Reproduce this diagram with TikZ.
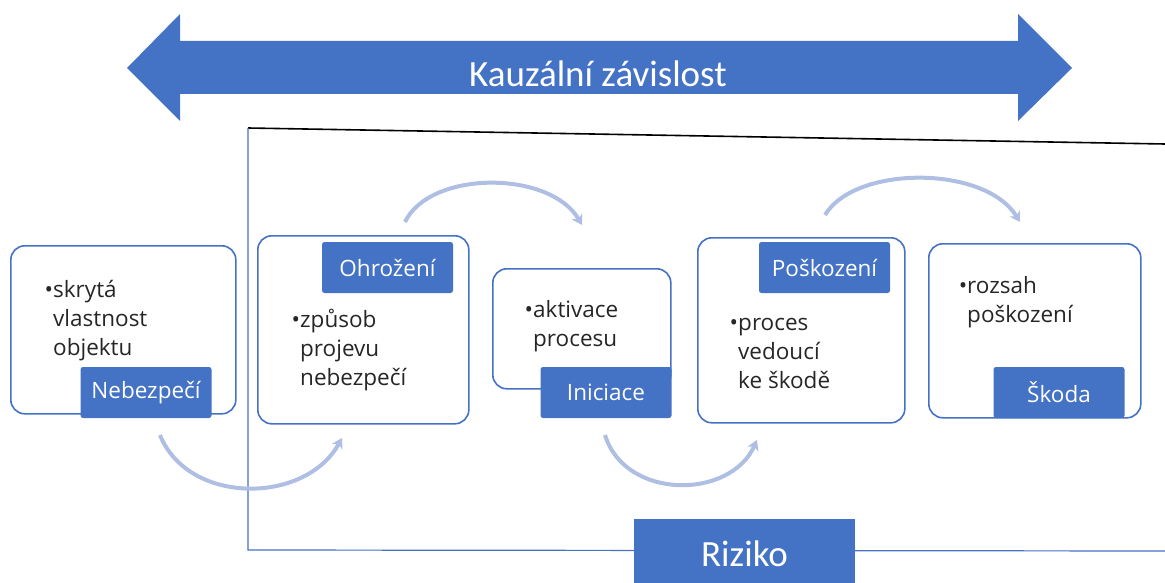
\documentclass[tikz,border=0pt]{standalone}
\usepackage{fontspec}
\setmainfont{Open Sans}
\newfontfamily\calib{Carlito}
\usetikzlibrary{arrows.meta}
\definecolor{mainblue}{HTML}{4472C4}
\definecolor{arcblue}{HTML}{AEBFE3}
\begin{document}
\begin{tikzpicture}[x=1pt,y=-1pt,
 container/.style={draw=mainblue, line width=1.6pt, rounded corners=14pt, fill=white, anchor=north west, inner sep=0pt},
 lab/.style={fill=mainblue, rounded corners=2.5pt, text=white, font=\fontsize{22.5}{26}\selectfont, inner sep=0pt, minimum width=131pt, minimum height=51pt},
 body/.style={anchor=base west, font=\fontsize{22.5}{29}\selectfont, inner sep=0pt, text=black!85},
 flow/.style={draw=arcblue, line width=4pt, -{Stealth[length=10pt,width=12pt,inset=3pt]}},
 big/.style={text=white, font=\calib\fontsize{37}{40}\selectfont, inner sep=0pt, anchor=base},
]
\useasboundingbox (0,0) rectangle (1165,583);

% causal double arrow
\fill[mainblue] (127,68) -- (180,14) -- (180,41) -- (1018,41) -- (1018,14) -- (1072,68)
  -- (1018,121) -- (1018,94) -- (180,94) -- (180,121) -- cycle;
\node[big] (kauz) at (598,87) {Kauzální závislost};

% risk frame
\coordinate (ftl) at (248,128);
\coordinate (ftr) at (1165,144);
\coordinate (fbl) at (248,550);
\coordinate (fbr) at (1165,551);
\draw[black, line width=1.6pt] (ftl) -- (ftr);
\draw[mainblue, line width=1.2pt] (ftl) -- (fbl) -- (fbr);

% containers
\node[container, minimum width=225pt, minimum height=168pt] (c1) at (10,245) {};
\node[container, minimum width=211pt, minimum height=188pt] (c2) at (257,235) {};
\node[container, minimum width=178pt, minimum height=120pt] (c3) at (492,268) {};
\node[container, minimum width=207pt, minimum height=185pt] (c4) at (697,237) {};
\node[container, minimum width=212pt, minimum height=174pt] (c5) at (928,243) {};

% body texts
\node[body] (t1) at (53,297) {\vtop{\hbox{\llap{•}skrytá}\hbox{vlastnost}\hbox{objektu}}};
\node[body] (t2) at (300,327) {\vtop{\hbox{\llap{•}způsob}\hbox{projevu}\hbox{nebezpečí}}};
\node[body] (t3) at (533,317) {\vtop{\hbox{\llap{•}aktivace}\hbox{procesu}}};
\node[body] (t4) at (738,330) {\vtop{\hbox{\llap{•}proces}\hbox{vedoucí}\hbox{ke škodě}}};
\node[body] (t5) at (967,293) {\vtop{\hbox{\llap{•}rozsah}\hbox{poškození}}};

% labels
\node[lab] (l1) at (146,392.5) {Nebezpečí};
\node[lab] (l2) at (387.5,267.5) {Ohrožení};
\node[lab] (l3) at (606,392.5) {Iniciace};
\node[lab] (l4) at (824.5,267.5) {Poškození};
\node[lab] (l5) at (1059,392.5) {Škoda};

% flow arcs
\coordinate (a1s) at (160,435); \coordinate (a1e) at (342,438);
\coordinate (a2s) at (405,222); \coordinate (a2e) at (582,225);
\coordinate (a3s) at (605,435); \coordinate (a3e) at (757,440);
\coordinate (a4s) at (825,215); \coordinate (a4e) at (1020,222);
\draw[flow] (a1s) .. controls (188,505) and (305,505) .. (a1e);
\draw[flow] (a2s) .. controls (430,170) and (550,170) .. (a2e);
\draw[flow] (a3s) .. controls (625,500) and (730,500) .. (a3e);
\draw[flow] (a4s) .. controls (855,165) and (985,165) .. (a4e);

% risk label
\fill[mainblue] (634,519) rectangle (855,583);
\node[big] (riziko) at (744.5,566) {Riziko};
\end{tikzpicture}
\end{document}
